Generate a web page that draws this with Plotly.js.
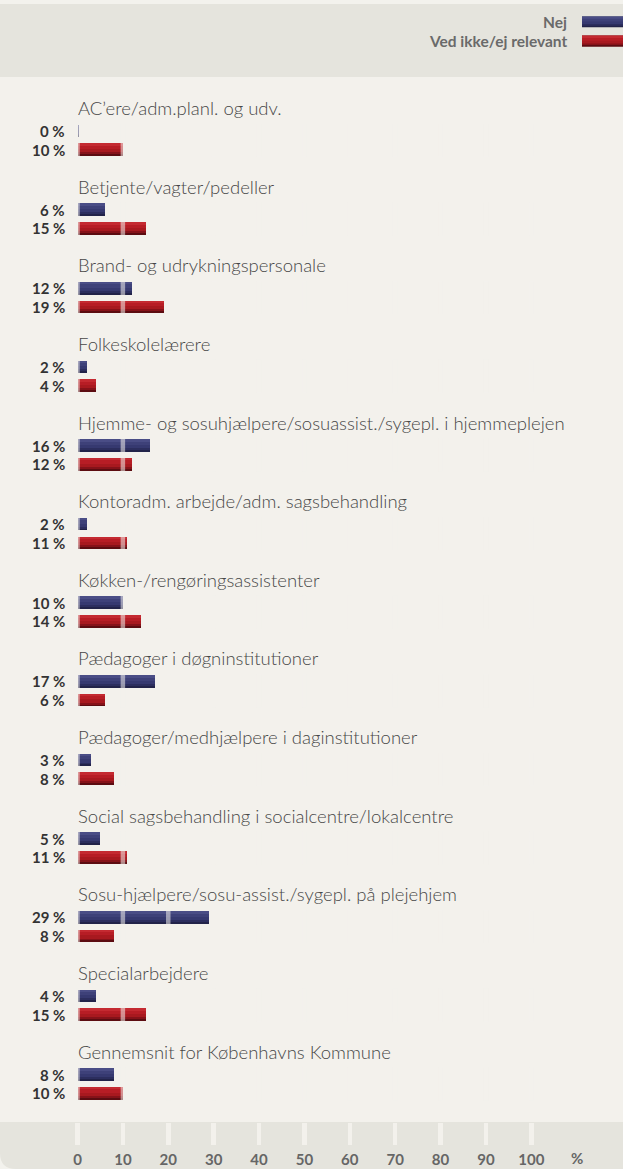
<!DOCTYPE html>
<html>
<head>
<meta charset="utf-8">
<script src="https://cdn.plot.ly/plotly-3.0.1.min.js"></script>
<style>
html,body{margin:0;padding:0;background:#f3f2ed;}
#chart{width:623px;height:1169px;}
</style>
</head>
<body>
<div id="chart"></div>
<script>
// ---- data ----
var categories = [
  "AC\u2019ere/adm.planl. og udv.",
  "Betjente/vagter/pedeller",
  "Brand- og udrykningspersonale",
  "Folkeskolelærere",
  "Hjemme- og sosuhjælpere/sosuassist./sygepl. i hjemmeplejen",
  "Kontoradm. arbejde/adm. sagsbehandling",
  "Køkken-/rengøringsassistenter",
  "Pædagoger i døgninstitutioner",
  "Pædagoger/medhjælpere i daginstitutioner",
  "Social sagsbehandling i socialcentre/lokalcentre",
  "Sosu-hjælpere/sosu-assist./sygepl. på plejehjem",
  "Specialarbejdere",
  "Gennemsnit for Københavns Kommune"
];
var nej = [0.4, 6, 12, 2, 16, 2, 10, 17, 3, 5, 29, 4, 8];
var vedIkke = [10, 15, 19, 4, 12, 11, 14, 6, 8, 11, 8, 15, 10];
var seriesNames = ["Nej", "Ved ikke/ej relevant"];
var tickValues = [0, 10, 20, 30, 40, 50, 60, 70, 80, 90, 100];
var tickLabels = ["0", "10", "20", "30", "40", "50", "60", "70", "80", "90", "100"];
var unitLabel = "%";

// ---- layout constants ----
var W = 623, H = 1169;
var mTop = 77, mBot = 47;
var plotH = H - mTop - mBot;
var pxPerRow = 78.63;
var pxPerX = 4.538;
var x0px = 77.5;
var gap = 18.7 / pxPerRow;      // Nej -> Ved offset
var bw = 12.6 / pxPerRow;       // bar thickness
var yTop = -54 / pxPerRow;
var yBot = yTop + plotH / pxPerRow;
var xMin = -x0px / pxPerX, xMax = (W - x0px) / pxPerX;

var yNej = categories.map(function(c, i){ return i; });
var yVed = categories.map(function(c, i){ return i + gap; });

var blue = ['#222349', '#2c2e5e', '#363970', '#3e4179', '#4a4d86'];
var red  = ['#5c0c11', '#861219', '#a8191f', '#b71d25', '#c42a31'];
var frac = [1.0, 0.85, 0.7, 0.45, 0.2];

function layers(vals, ys, cols, name){
  return frac.map(function(f, k){
    return {
      type:'bar', orientation:'h', x: vals, y: ys,
      width: bw * f, offset: -bw/2,
      marker:{color: cols[k], line:{width:0}},
      name: name, showlegend:false, hoverinfo:'x+name'
    };
  });
}
var traces = [].concat(layers(nej, yNej, blue, seriesNames[0]), layers(vedIkke, yVed, red, seriesNames[1]));

var annotations = [];
var fTitle = {family:'Lato, "Open Sans", sans-serif', size:18.5, color:'#474747', weight:300};
var fPct = {family:'Lato, "Open Sans", sans-serif', size:15, color:'#333333', weight:700};
categories.forEach(function(c, i){
  annotations.push({x:0, y:yNej[i] - 17/pxPerRow, xref:'x', yref:'y', text:c, showarrow:false,
    xanchor:'left', yanchor:'bottom', font:fTitle, borderpad:0, yshift:-6, xshift:-1});
  annotations.push({x:-11.5/pxPerX, y:yNej[i], xref:'x', yref:'y', text:Math.round(nej[i]) + ' %',
    showarrow:false, xanchor:'right', yanchor:'middle', font:fPct, borderpad:0});
  annotations.push({x:-11.5/pxPerX, y:yVed[i], xref:'x', yref:'y', text:Math.round(vedIkke[i]) + ' %',
    showarrow:false, xanchor:'right', yanchor:'middle', font:fPct, borderpad:0});
});
// unit label
annotations.push({x:110, y:-36/plotH, xref:'x', yref:'paper', text:unitLabel, showarrow:false,
  xanchor:'center', yanchor:'middle', font:{family:'Lato, sans-serif', size:15, color:'#666666', weight:700}});
// legend
var fLeg = {family:'Lato, "Open Sans", sans-serif', size:15.5, color:'#6a6a6a', weight:700};
function py(p){ return (H - mBot - p) / plotH; }
annotations.push({x:568/W, y:py(22), xref:'paper', yref:'paper', text:seriesNames[0], showarrow:false, xanchor:'right', yanchor:'middle', font:fLeg, borderpad:0});
annotations.push({x:568/W, y:py(41), xref:'paper', yref:'paper', text:seriesNames[1], showarrow:false, xanchor:'right', yanchor:'middle', font:fLeg, borderpad:0});

var shapes = [];
// bands
shapes.push({type:'rect', xref:'paper', yref:'paper', x0:0, x1:1, y0:py(77), y1:py(4), fillcolor:'#e5e4dd', line:{width:0}, layer:'below'});
var r = 16;
shapes.push({type:'path', xref:'paper', yref:'paper', layer:'below', fillcolor:'#e5e4dd', line:{width:0},
  path:'M 0 ' + py(1122) + ' L 1 ' + py(1122) + ' L 1 ' + py(H) + ' L ' + (r/W) + ' ' + py(H) +
       ' Q 0 ' + py(H) + ' 0 ' + py(H - r) + ' Z'});
// legend swatches
function swatch(top, bot, cols){
  var h = bot - top;
  frac.forEach(function(f, k){
    shapes.push({type:'rect', xref:'paper', yref:'paper', x0:582/W, x1:1, y0:py(top + h*f), y1:py(top), fillcolor:cols[k], line:{width:0}});
  });
}
swatch(16.7, 27.3, blue);
swatch(35.7, 46.7, red);
// grid stripes over bars (segmented per group)
tickValues.forEach(function(t){
  var p = '';
  categories.forEach(function(c, i){
    p += 'M ' + t + ' ' + (yNej[i] - bw/2 - 0.01) + ' L ' + t + ' ' + (yVed[i] + bw/2 + 0.01) + ' ';
  });
  shapes.push({type:'path', xref:'x', yref:'y', path:p, layer:'above',
    line:{color:'rgba(243,241,236,0.55)', width:4.5}});
});

var layout = {
  width: W, height: H,
  margin: {l:0, r:0, t:mTop, b:mBot, pad:0},
  paper_bgcolor:'#f3f2ed', plot_bgcolor:'#f3f1ec',
  barmode:'overlay', bargap:0,
  showlegend:false,
  xaxis:{range:[xMin, xMax], tickvals:tickValues, ticktext:tickLabels, showgrid:false, zeroline:false,
    showline:false, ticks:'outside', ticklen:22, tickwidth:4.5, tickcolor:'#f3f1ec', ticklabelstandoff:2,
    tickfont:{family:'Lato, sans-serif', size:15, color:'#666666', weight:700}, fixedrange:true},
  yaxis:{range:[yBot, yTop], showticklabels:false, showgrid:false, zeroline:false, showline:false, ticks:'', fixedrange:true},
  annotations: annotations,
  shapes: shapes
};
Plotly.newPlot('chart', traces, layout, {displayModeBar:false, staticPlot:true});
</script>
</body>
</html>
